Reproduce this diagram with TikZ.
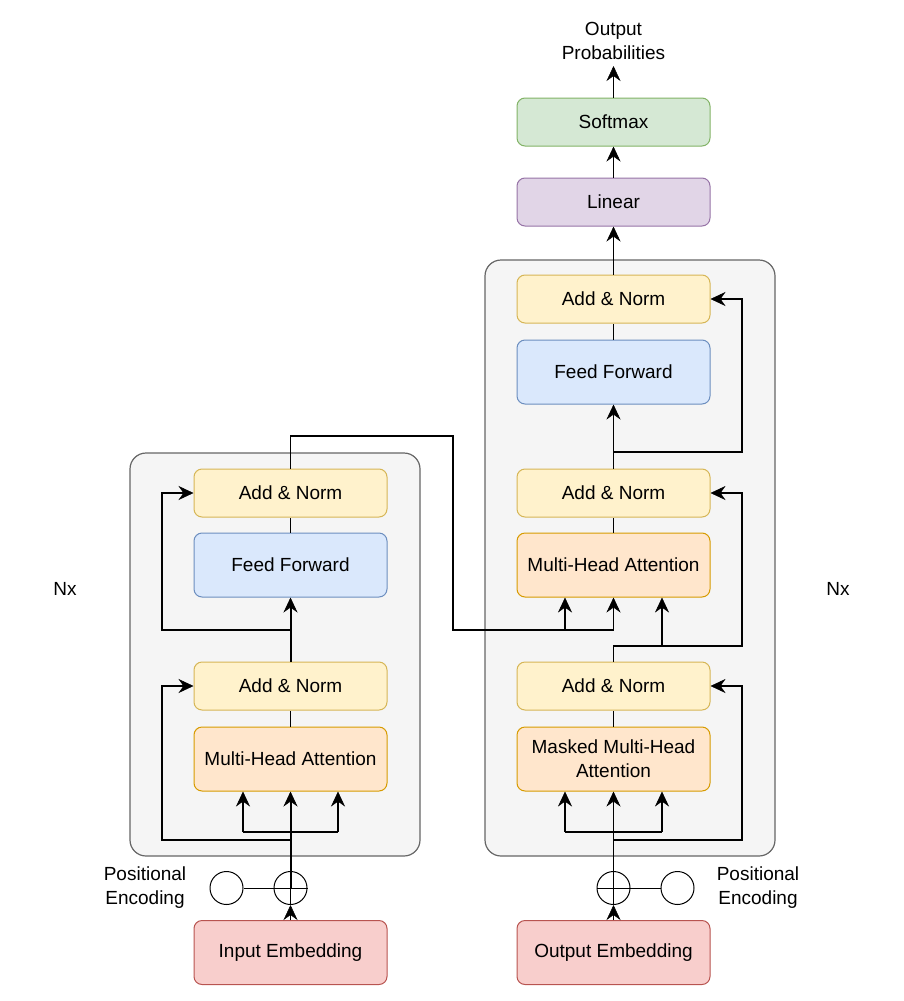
\documentclass[tikz,border=0pt]{standalone}
\usepackage{fontspec}
\setmainfont{Liberation Sans}
\usetikzlibrary{arrows.meta,calc}
\definecolor{anF}{HTML}{FFF2CC}\definecolor{anD}{HTML}{D6B656}
\definecolor{ffF}{HTML}{DAE8FC}\definecolor{ffD}{HTML}{6C8EBF}
\definecolor{mhF}{HTML}{FFE6CC}\definecolor{mhD}{HTML}{D79B00}
\definecolor{emF}{HTML}{F8CECC}\definecolor{emD}{HTML}{B85450}
\definecolor{liF}{HTML}{E1D5E7}\definecolor{liD}{HTML}{9673A6}
\definecolor{smF}{HTML}{D5E8D4}\definecolor{smD}{HTML}{82B366}
\definecolor{blF}{HTML}{F5F5F5}\definecolor{blD}{HTML}{666666}
\begin{document}
\begin{tikzpicture}[x=1pt,y=-1pt,
  txt/.style={font=\fontsize{19}{24}\selectfont, align=center, inner sep=0pt},
  box/.style={txt, draw, rounded corners=8pt, minimum width=193pt, line width=1pt},
  shortbox/.style={box, minimum height=48pt},
  tallbox/.style={box, minimum height=64pt},
  addnorm/.style={shortbox, fill=anF, draw=anD},
  ffbox/.style={tallbox, fill=ffF, draw=ffD},
  mhbox/.style={tallbox, fill=mhF, draw=mhD},
  embbox/.style={tallbox, fill=emF, draw=emD},
  linbox/.style={shortbox, fill=liF, draw=liD},
  smbox/.style={shortbox, fill=smF, draw=smD},
  block/.style={draw=blD, fill=blF, rounded corners=16pt, line width=1.2pt, minimum width=290pt, inner sep=0pt},
  pe/.style={circle, draw, fill=white, minimum size=33pt, inner sep=0pt, line width=1pt},
  wire/.style={line width=1.4pt},
  conn/.style={line width=1.4pt, -{Stealth[length=15pt,width=14pt,inset=5pt,line width=0.5pt]}},
  thick conn/.style={conn, line width=2pt},
]
\useasboundingbox (0,0) rectangle (903,1001);
% blocks
\node[block, minimum height=403pt] (encblock) at (275,654.5) {};
\node[block, minimum height=596pt] (decblock) at (630,558) {};
% encoder
\node[addnorm] (encan2) at (290.5,493) {Add \& Norm};
\node[ffbox] (encff) at (290.5,565) {Feed Forward};
\node[addnorm] (encan1) at (290.5,686) {Add \& Norm};
\node[mhbox] (encmha) at (290.5,759) {Multi-Head Attention};
\node[embbox] (inemb) at (290.5,952.5) {Input Embedding};
\node[pe] (encpe) at (226.5,888) {};
\node[pe] (encadd) at (290.5,888) {};
\draw[line width=1pt] (encadd.west) -- (encadd.east) (encadd.north) -- (encadd.south);
\node[txt] (encpetxt) at (145,888) {Positional\\Encoding};
\node[txt] (nxl) at (65,589) {Nx};
% decoder
\node[smbox] (softmax) at (613.5,122) {Softmax};
\node[linbox] (linear) at (613.5,202) {Linear};
\node[addnorm] (decan3) at (613.5,299) {Add \& Norm};
\node[ffbox] (decff) at (613.5,372) {Feed Forward};
\node[addnorm] (decan2) at (613.5,493) {Add \& Norm};
\node[mhbox] (decmha) at (613.5,565) {Multi-Head Attention};
\node[addnorm] (decan1) at (613.5,686) {Add \& Norm};
\node[mhbox] (decmmha) at (613.5,759) {Masked Multi-Head\\Attention};
\node[embbox] (outemb) at (613.5,952.5) {Output Embedding};
\node[pe] (decadd) at (613.5,888) {};
\node[pe] (decpe) at (677.5,888) {};
\draw[line width=1pt] (decadd.west) -- (decadd.east) (decadd.north) -- (decadd.south);
\node[txt] (decpetxt) at (758,888) {Positional\\Encoding};
\node[txt] (nxr) at (838,589) {Nx};
\node[txt] (outtxt) at (613.5,41) {Output\\Probabilities};
\coordinate (outp) at (613.5,66);
% encoder connections
\draw[conn] (inemb.north) -- (encadd.south);
\draw[line width=1pt] (encpe.east) -- (encadd.west);
\draw[thick conn] (encadd.center) -- (encmha.south);
\coordinate (ebL) at (243,832);
\coordinate (ebR) at (338,832);
\draw[wire] (ebL) -- (ebR);
\draw[conn] (ebL) -- (ebL |- encmha.south);
\draw[conn] (ebR) -- (ebR |- encmha.south);
\coordinate (er1) at (162,840);
\draw[conn] (encadd.center |- er1) -- (er1) |- (encan1.west);
\draw[wire] (encmha.north) -- (encan1.south);
\draw[thick conn] (encan1.north) -- (encff.south);
\coordinate (er2) at (162,630);
\draw[conn] (encff.south |- er2) -- (er2) |- (encan2.west);
\draw[wire] (encff.north) -- (encan2.south);
% encoder output to decoder
\coordinate (eo1) at (453,436);
\coordinate (eo2) at (453,630);
\draw[conn] (encan2.north) |- (eo1) -- (eo2) -| (decmha.south);
\coordinate (dk) at (565,630);
\draw[conn] (dk) -- (dk |- decmha.south);
% decoder connections
\draw[conn] (outemb.north) -- (decadd.south);
\draw[line width=1pt] (decadd.east) -- (decpe.west);
\draw[conn] (decadd.center) -- (decmmha.south);
\coordinate (dbL) at (565,832);
\coordinate (dbR) at (662,832);
\draw[wire] (dbL) -- (dbR);
\draw[conn] (dbL) -- (dbL |- decmmha.south);
\draw[conn] (dbR) -- (dbR |- decmmha.south);
\coordinate (dr1) at (742,840);
\draw[conn] (decadd.center |- dr1) -- (dr1) |- (decan1.east);
\draw[wire] (decmmha.north) -- (decan1.south);
\coordinate (dr2) at (742,646);
\draw[conn] (decan1.north) |- (dr2) |- (decan2.east);
\coordinate (dv) at (662,646);
\draw[thick conn] (dv) -- (dv |- decmha.south);
\draw[wire] (decmha.north) -- (decan2.south);
\draw[conn] (decan2.north) -- (decff.south);
\coordinate (dr3) at (742,452);
\draw[conn] (decan2.north |- dr3) -- (dr3) |- (decan3.east);
\draw[wire] (decff.north) -- (decan3.south);
\draw[conn] (decan3.north) -- (linear.south);
\draw[conn] (linear.north) -- (softmax.south);
\draw[conn] (softmax.north) -- (outp);
\end{tikzpicture}
\end{document}
